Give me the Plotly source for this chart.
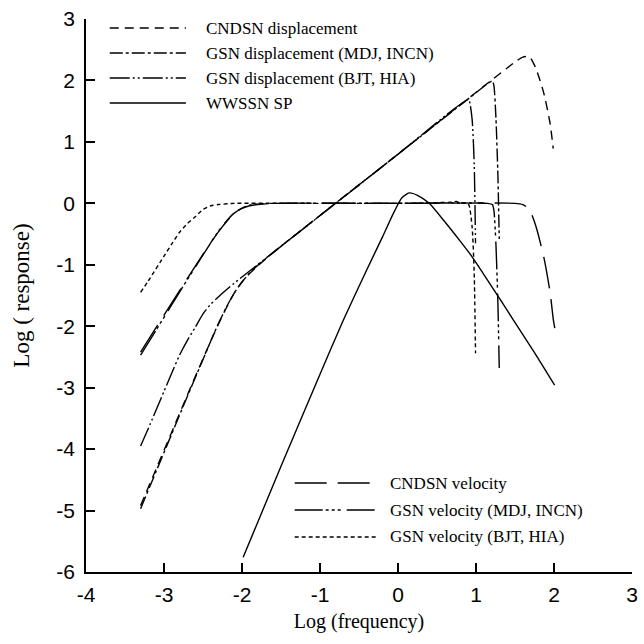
import plotly.graph_objects as go

# ---------------- data ----------------
cndsn_disp_x = [-3.3, -3.1, -2.9, -2.7, -2.5, -2.4, -2.3, -2.2, -2.1, -2.0, -1.9, -1.8, -1.6, 0.0, 1.5, 1.6, 1.65, 1.7, 1.77, 1.87, 1.95, 1.99]
cndsn_disp_y = [-4.92, -4.32, -3.72, -3.12, -2.53, -2.24, -1.96, -1.70, -1.46, -1.28, -1.14, -1.02, -0.80, 0.80, 2.30, 2.38, 2.39, 2.36, 2.19, 1.79, 1.30, 0.89]

gsn_mdj_disp_x = [-3.3, -3.1, -2.9, -2.7, -2.5, -2.4, -2.3, -2.2, -2.1, -2.0, -1.9, -1.8, -1.6, 0.0, 1.0, 1.15, 1.21, 1.23, 1.256, 1.281, 1.298]
gsn_mdj_disp_y = [-4.97, -4.36, -3.75, -3.14, -2.54, -2.24, -1.95, -1.69, -1.46, -1.28, -1.13, -1.01, -0.80, 0.80, 1.80, 1.95, 1.99, 1.91, 1.38, 0.44, -0.58]

gsn_bjt_disp_x = [-3.3, -3.2, -3.0, -2.9, -2.8, -2.7, -2.6, -2.5, -2.4, -2.3, -2.1, -1.5, 0.0, 0.7, 0.88, 0.91, 0.95, 0.977, 0.994]
gsn_bjt_disp_y = [-3.95, -3.66, -3.06, -2.76, -2.47, -2.23, -2.02, -1.80, -1.64, -1.52, -1.30, -0.70, 0.80, 1.52, 1.68, 1.68, 1.37, 0.64, -0.65]

wwssn_x = [-1.985, -1.5, -1.0, -0.7, -0.4, -0.2, -0.05, 0.05, 0.145, 0.25, 0.4, 0.6, 0.8, 0.95, 1.2, 1.48, 1.75, 2.008]
wwssn_y = [-5.76, -4.28, -2.78, -1.90, -1.08, -0.55, -0.14, 0.09, 0.17, 0.13, 0.0, -0.30, -0.62, -0.87, -1.35, -1.90, -2.43, -2.96]

cndsn_vel_x = [-3.3, -3.1, -2.9, -2.7, -2.5, -2.4, -2.3, -2.2, -2.1, -2.0, -1.9, -1.8, -1.6, 0.0, 1.5, 1.6, 1.65, 1.7, 1.77, 1.87, 1.95, 1.99, 2.01]
cndsn_vel_y = [-2.42, -2.02, -1.62, -1.22, -0.83, -0.64, -0.46, -0.30, -0.16, -0.08, -0.04, -0.02, 0.0, 0.0, 0.0, -0.02, -0.06, -0.14, -0.38, -0.88, -1.45, -1.88, -2.03]

gsn_mdj_vel_x = [-3.3, -3.1, -2.9, -2.7, -2.5, -2.4, -2.3, -2.2, -2.1, -2.0, -1.9, -1.8, -1.6, 0.0, 1.15, 1.21, 1.23, 1.256, 1.281, 1.298]
gsn_mdj_vel_y = [-2.47, -2.06, -1.65, -1.24, -0.84, -0.64, -0.45, -0.29, -0.16, -0.08, -0.03, -0.01, 0.0, 0.0, 0.0, -0.02, -0.12, -0.68, -1.64, -2.68]

gsn_bjt_vel_x = [-3.3, -3.2, -3.0, -2.9, -2.8, -2.7, -2.6, -2.5, -2.4, -2.3, -2.1, -1.5, 0.0, 0.7, 0.75, 0.8, 0.88, 0.91, 0.95, 0.977, 0.994]
gsn_bjt_vel_y = [-1.45, -1.26, -0.86, -0.66, -0.47, -0.33, -0.22, -0.10, -0.04, -0.02, 0.0, 0.0, 0.0, 0.02, 0.03, 0.01, 0.0, -0.03, -0.38, -1.14, -2.44]

x_ticks = [-4, -3, -2, -1, 0, 1, 2, 3]
y_ticks = [-6, -5, -4, -3, -2, -1, 0, 1, 2, 3]

legend_top = ["CNDSN displacement", "GSN displacement (MDJ, INCN)", "GSN displacement (BJT, HIA)", "WWSSN SP"]
legend_bottom = ["CNDSN velocity", "GSN velocity (MDJ, INCN)", "GSN velocity (BJT, HIA)"]

# ---------------- styles ----------------
dash_cndsn_disp = "9px,6px"
dash_mdj_disp = "13px,3px,3px,3px"
dash_bjt_disp = "20px,3px,2px,3px,2px,3px"
dash_wwssn = "solid"
dash_cndsn_vel = "32px,11px"
dash_mdj_vel = "28px,3px,3px,3px,3px,3px,3px,6px"
dash_bjt_vel = "4px,3px"
LW = 1.4
SERIF = "Liberation Serif, Times New Roman, serif"
SANS = "Liberation Sans, Arial, sans-serif"

series = [
    (cndsn_disp_x, cndsn_disp_y, dash_cndsn_disp, legend_top[0]),
    (gsn_mdj_disp_x, gsn_mdj_disp_y, dash_mdj_disp, legend_top[1]),
    (gsn_bjt_disp_x, gsn_bjt_disp_y, dash_bjt_disp, legend_top[2]),
    (wwssn_x, wwssn_y, dash_wwssn, legend_top[3]),
    (cndsn_vel_x, cndsn_vel_y, dash_cndsn_vel, legend_bottom[0]),
    (gsn_mdj_vel_x, gsn_mdj_vel_y, dash_mdj_vel, legend_bottom[1]),
    (gsn_bjt_vel_x, gsn_bjt_vel_y, dash_bjt_vel, legend_bottom[2]),
]

fig = go.Figure()
for xs, ys, dash, name in series:
    fig.add_trace(go.Scatter(
        x=xs, y=ys, mode="lines", name=name, showlegend=False,
        line=dict(color="black", width=LW, dash=dash, shape="spline", smoothing=0.6),
    ))

# ---------------- hand-made legends (samples + text) ----------------
shapes = []
annotations = []
top_rows = [0.9837, 0.9385, 0.8933, 0.8481]
for (xs, ys, dash, name), yy in zip(series[:4], top_rows):
    shapes.append(dict(type="line", xref="paper", yref="paper", x0=0.0435, x1=0.183, y0=yy, y1=yy,
                       line=dict(color="black", width=LW, dash=dash)))
    annotations.append(dict(text=name, xref="paper", yref="paper", x=0.2156, y=yy, xanchor="left",
                            yanchor="middle", showarrow=False, font=dict(family=SERIF, size=17, color="black")))
bot_rows = [0.1609, 0.1121, 0.0633]
for (xs, ys, dash, name), yy in zip(series[4:], bot_rows):
    shapes.append(dict(type="line", xref="paper", yref="paper", x0=0.3822, x1=0.5308, y0=yy, y1=yy,
                       line=dict(color="black", width=LW, dash=dash)))
    annotations.append(dict(text=name, xref="paper", yref="paper", x=0.5525, y=yy, xanchor="left",
                            yanchor="middle", showarrow=False, font=dict(family=SERIF, size=17, color="black")))

fig.update_layout(
    width=644, height=644,
    margin=dict(l=86, r=6, t=19, b=72),
    paper_bgcolor="white", plot_bgcolor="white",
    shapes=shapes, annotations=annotations,
    showlegend=False,
)
axis_common = dict(
    showgrid=False, zeroline=False, showline=True, linecolor="black", linewidth=1.5,
    ticks="inside", ticklen=9, tickwidth=1.5, tickcolor="black",
    tickfont=dict(family=SANS, size=21, color="black"), mirror=False,
)
fig.update_xaxes(range=[-4, 3], tickvals=x_ticks, ticktext=[str(v) for v in x_ticks],
                 ticklabelstandoff=3,
                 title=dict(text="Log (frequency)", font=dict(family=SERIF, size=20, color="black"), standoff=9),
                 **axis_common)
fig.update_yaxes(range=[-6, 3], tickvals=y_ticks, ticktext=[str(v) for v in y_ticks],
                 ticklabelstandoff=5,
                 title=dict(text="Log ( response)", font=dict(family=SERIF, size=23, color="black"), standoff=20),
                 **axis_common)

fig.write_html("out.html")
